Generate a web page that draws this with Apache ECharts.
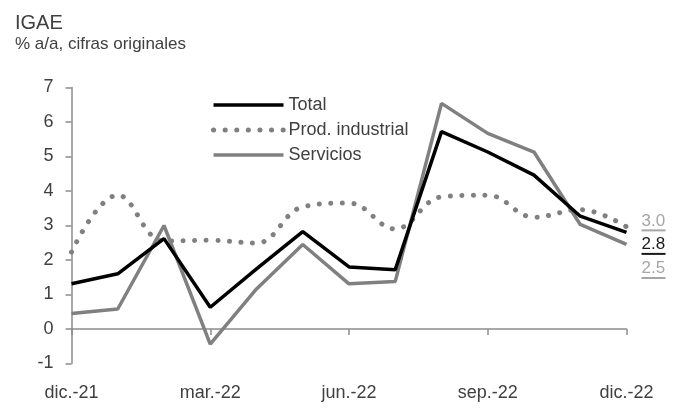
<!DOCTYPE html>
<html>
<head>
<meta charset="utf-8">
<script src="https://cdn.jsdelivr.net/npm/echarts@6/dist/echarts.min.js"></script>
<style>
  html, body { margin: 0; padding: 0; background: #fff; }
  #igae { width: 677px; height: 412px; }
</style>
</head>
<body>
<div id="igae"></div>
<script>
// meses de dic.-21 a dic.-22
const meses = ["dic.-21", "ene.-22", "feb.-22", "mar.-22", "abr.-22", "may.-22", "jun.-22",
  "jul.-22", "ago.-22", "sep.-22", "oct.-22", "nov.-22", "dic.-22"];
const total = [1.31, 1.6, 2.62, 0.63, 1.74, 2.82, 1.8, 1.72, 5.72, 5.13, 4.46, 3.27, 2.8];
const prodIndustrial = [2.23, 3.88, 2.55, 2.57, 2.49, 3.54, 3.65, 2.9, 3.83, 3.88, 3.24, 3.46, 2.96];
const servicios = [0.45, 0.58, 3.0, -0.44, 1.16, 2.45, 1.31, 1.38, 6.54, 5.67, 5.13, 3.03, 2.45];

const fuente = "'Liberation Sans', Arial, sans-serif";
const gris = "#808080";
const grisEje = "#8c8c8c";
const texto = "#404040";

// etiqueta final subrayada
function etiquetaFinal(color, dy) {
  return {
    show: true,
    distance: 15,
    offset: [0, dy],
    formatter: p => "{t|" + p.value.toFixed(1) + "}\n{u|}",
    rich: {
      t: { fontFamily: fuente, fontSize: 17, lineHeight: 17, color: color },
      u: { width: 24, height: 2, lineHeight: 2, backgroundColor: color }
    }
  };
}

const chart = echarts.init(document.getElementById("igae"));
chart.setOption({
  animation: false,
  textStyle: { fontFamily: fuente, color: texto },
  title: {
    text: "IGAE",
    subtext: "% a/a, cifras originales",
    left: 10,
    top: 8,
    itemGap: 3,
    textStyle: { fontFamily: fuente, fontSize: 20, fontWeight: "normal", color: texto },
    subtextStyle: { fontFamily: fuente, fontSize: 17, color: texto }
  },
  legend: {
    orient: "vertical",
    left: 206,
    top: 91,
    itemWidth: 70,
    itemHeight: 14,
    itemGap: 7,
    // sin círculo en el icono
    itemStyle: { color: "rgba(0,0,0,0)", borderWidth: 0, opacity: 0 },
    textStyle: { fontFamily: fuente, fontSize: 18, color: texto },
    data: [
      { name: "Total", lineStyle: { width: 3.5 } },
      { name: "Prod. industrial", lineStyle: { width: 5 } },
      { name: "Servicios", lineStyle: { width: 3.5 } }
    ]
  },
  grid: { left: 71.5, right: 50.5, top: 87.5, bottom: 48.5, containLabel: false },
  xAxis: [
    {
      // eje en cero con marcas
      type: "category",
      data: meses,
      boundaryGap: false,
      position: "bottom",
      axisLine: { onZero: true, lineStyle: { color: grisEje, width: 1.5 } },
      axisTick: { show: true, interval: 2, length: 6, lineStyle: { color: grisEje, width: 1.5 } },
      axisLabel: { show: false },
      splitLine: { show: false }
    },
    {
      // etiquetas abajo
      type: "category",
      data: meses,
      boundaryGap: false,
      position: "bottom",
      axisLine: { show: false, onZero: false },
      axisTick: { show: false },
      axisLabel: { interval: 2, margin: 21, fontFamily: fuente, fontSize: 18, color: texto },
      splitLine: { show: false }
    }
  ],
  yAxis: {
    type: "value",
    min: -1,
    max: 7,
    interval: 1,
    axisLine: { show: true, lineStyle: { color: grisEje, width: 1.5 } },
    axisTick: { show: true, length: 6, lineStyle: { color: grisEje, width: 1.5 } },
    axisLabel: { margin: 18, fontFamily: fuente, fontSize: 18, color: texto },
    splitLine: { show: false }
  },
  series: [
    {
      name: "Total",
      type: "line",
      data: total,
      symbol: "none",
      z: 4,
      lineStyle: { color: "#000", width: 3.5 },
      itemStyle: { color: "#000" },
      endLabel: etiquetaFinal("#1a1a1a", 13)
    },
    {
      name: "Prod. industrial",
      type: "line",
      data: prodIndustrial,
      symbol: "none",
      smooth: 0.4,
      z: 2,
      lineStyle: { color: gris, width: 5, type: [0.1, 11.5], cap: "round" },
      itemStyle: { color: gris },
      endLabel: etiquetaFinal("#a6a6a6", -5)
    },
    {
      name: "Servicios",
      type: "line",
      data: servicios,
      symbol: "none",
      z: 3,
      lineStyle: { color: gris, width: 3.5 },
      itemStyle: { color: gris },
      endLabel: etiquetaFinal("#a6a6a6", 25)
    }
  ]
});
</script>
</body>
</html>
